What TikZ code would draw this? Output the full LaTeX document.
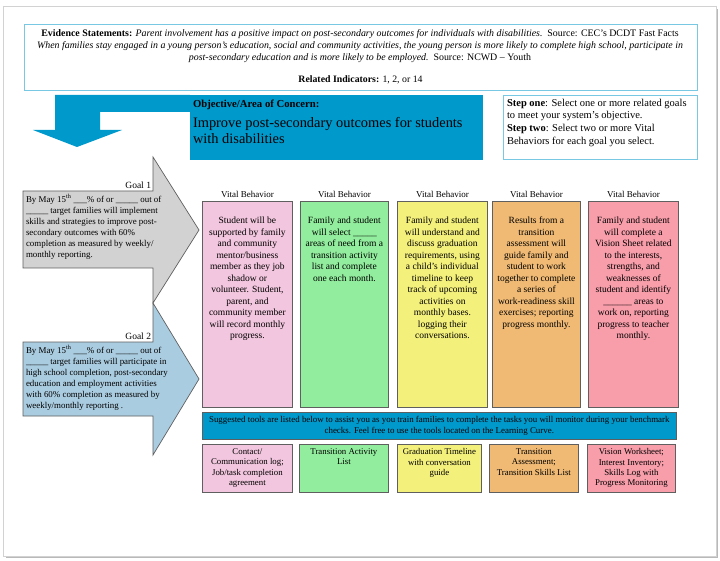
\documentclass[tikz,border=0pt]{standalone}
\usepackage{fontspec}
\setmainfont{Liberation Serif}
\definecolor{objblue}{RGB}{0,153,204}
\definecolor{lineblue}{RGB}{120,200,228}
\definecolor{vbpink}{RGB}{242,198,222}
\definecolor{vbgreen}{RGB}{146,238,158}
\definecolor{vbyellow}{RGB}{244,240,124}
\definecolor{vborange}{RGB}{240,186,116}
\definecolor{vbred}{RGB}{248,158,170}
\definecolor{goalgray}{RGB}{210,210,210}
\definecolor{goalblue}{RGB}{170,204,224}
\definecolor{edgegray}{RGB}{95,95,95}
\tikzset{
  txt/.style={inner sep=0pt, outer sep=0pt},
  vbbox/.style={draw=edgegray, line width=0.8pt, inner sep=0pt, minimum height=206},
  toolbox/.style={draw=edgegray, line width=0.8pt, inner sep=0pt, minimum height=48},
  vbtext/.style={txt, anchor=north, align=center, font=\fontsize{9.5}{11.5}\selectfont},
  tooltext/.style={txt, anchor=north, align=center, font=\fontsize{8.8}{10.4}\selectfont},
  vbhead/.style={txt, anchor=base, font=\fontsize{9}{10}\selectfont},
  goaltext/.style={txt, anchor=north west, align=left, font=\fontsize{8.9}{11}\selectfont},
  goalshape/.style={draw=edgegray, line width=0.7pt},
  bluebox/.style={draw=lineblue, line width=1pt, inner sep=0pt}
}
\begin{document}
\begin{tikzpicture}[x=1pt,y=-1pt]
\useasboundingbox (0,0) rectangle (720,561);
% page
\fill[gray!55] (6,9) rectangle (718,558);
\draw[gray!35, fill=white] (3,6) rectangle (716,556);

% evidence box
\node[bluebox, minimum width=673, minimum height=66, anchor=north west] (evbox) at (24,24) {};
\node[txt, anchor=north, align=center, font=\fontsize{9.9}{12}\selectfont] (evtext) at (360,29.5)
 {\textbf{Evidence Statements:} \textit{Parent involvement has a positive impact on post-secondary outcomes for individuals with disabilities.}\ \ Source: CEC’s DCDT Fast Facts\\
  \textit{When families stay engaged in a young person’s education, social and community activities, the young person is more likely to complete high school, participate in}\\
  \textit{post-secondary education and is more likely to be employed.}\ \ Source: NCWD – Youth};
\node[txt, anchor=base, font=\fontsize{9.8}{12}\selectfont] (related) at (360.5,82.5) {\textbf{Related Indicators:} 1, 2, or 14};

% bent arrow
\fill[objblue] (190,95) -- (55,95) -- (55,130) -- (33,130) -- (77,147) -- (122,130) -- (100,130) -- (100,112) -- (190,112) -- cycle;

% objective box
\node[fill=objblue, inner sep=0pt, minimum width=293, minimum height=65, anchor=north west] (obj) at (190,95) {};
\node[txt, anchor=base west, font=\fontsize{10.7}{12}\selectfont\bfseries] (objlabel) at (193,107.5) {Objective/Area of Concern:};
\node[txt, anchor=north west, align=left, font=\fontsize{14.4}{16}\selectfont] (objtext) at (193,117.5)
 {Improve post-secondary outcomes for students\\ with disabilities};

% step box
\node[bluebox, minimum width=194, minimum height=64, anchor=north west] (stepnote) at (503,95) {};
\node[txt, anchor=north west, align=left, font=\fontsize{10.5}{12.7}\selectfont] (steptext) at (507,99)
 {\textbf{Step one}: Select one or more related goals\\ to meet your system’s objective.\\ \textbf{Step two}: Select two or more Vital\\ Behaviors for each goal you select.};

% goal arrows
\draw[goalshape, fill=goalgray] (23,191) -- (153,191) -- (153,157) -- (199,230) -- (153,303) -- (153,268) -- (23,268) -- cycle;
\node[txt, anchor=base east, font=\fontsize{9.5}{11}\selectfont] (goal1) at (151,188.5) {Goal 1};
\node[goaltext] (g1text) at (26,194.5)
 {By May 15\textsuperscript{th} \_\_\_\% of or \_\_\_\_\_ out of\\
  \_\_\_\_\_ target families will implement\\
  skills and strategies to improve post-\\
  secondary outcomes with 60\%\\
  completion as measured by weekly/\\
  monthly reporting.};
\draw[goalshape, fill=goalblue] (23,342) -- (153,342) -- (153,303) -- (199,379) -- (153,455) -- (153,416) -- (23,416) -- cycle;
\node[txt, anchor=base east, font=\fontsize{9.5}{11}\selectfont] (goal2) at (151,339.5) {Goal 2};
\node[goaltext] (g2text) at (26,345)
 {By May 15\textsuperscript{th} \_\_\_\% of or \_\_\_\_\_ out of\\
  \_\_\_\_\_ target families will participate in\\
  high school completion, post-secondary\\
  education and employment activities\\
  with 60\% completion as measured by\\
  weekly/monthly reporting .};

% vital behavior columns
\node[vbbox, fill=vbpink, minimum width=90, anchor=north west] (vb1) at (202,201) {};
\node[vbbox, fill=vbgreen, minimum width=88, anchor=north west] (vb2) at (300,201) {};
\node[vbbox, fill=vbyellow, minimum width=90, anchor=north west] (vb3) at (397,201) {};
\node[vbbox, fill=vborange, minimum width=88, anchor=north west] (vb4) at (492,201) {};
\node[vbbox, fill=vbred, minimum width=90, anchor=north west] (vb5) at (588,201) {};
\foreach \i in {1,...,5}{
  \node[vbhead] (vbh\i) at ([yshift=3pt]vb\i.north) {Vital Behavior};
}
\node[vbtext] (vbt1) at ([yshift=-16pt]vb1.north)
 {Student will be\\ supported by family\\ and community\\ mentor/business\\ member as they job\\ shadow or\\ volunteer. Student,\\ parent, and\\ community member\\ will record monthly\\ progress.};
\node[vbtext] (vbt2) at ([yshift=-16pt]vb2.north)
 {Family and student\\ will select \_\_\_\_\_\\ areas of need from a\\ transition activity\\ list and complete\\ one each month.};
\node[vbtext] (vbt3) at ([yshift=-16pt]vb3.north)
 {Family and student\\ will understand and\\ discuss graduation\\ requirements, using\\ a child’s individual\\ timeline to keep\\ track of upcoming\\ activities on\\ monthly bases.\\ logging their\\ conversations.};
\node[vbtext] (vbt4) at ([yshift=-16pt]vb4.north)
 {Results from a\\ transition\\ assessment will\\ guide family and\\ student to work\\ together to complete\\ a series of\\ work-readiness skill\\ exercises; reporting\\ progress monthly.};
\node[vbtext] (vbt5) at ([yshift=-16pt]vb5.north)
 {Family and student\\ will complete a\\ Vision Sheet related\\ to the interests,\\ strengths, and\\ weaknesses of\\ student and identify\\ \_\_\_\_\_\_ areas to\\ work on, reporting\\ progress to teacher\\ monthly.};

% banner
\node[draw=edgegray, line width=0.6pt, fill=objblue, inner sep=0pt, minimum width=474, minimum height=27, anchor=north west] (banner) at (202,412) {};
\node[txt, anchor=north, align=center, font=\fontsize{8.9}{10.3}\selectfont] (bannertext) at ([yshift=-4.5pt]banner.north)
 {Suggested tools are listed below to assist you as you train families to complete the tasks you will monitor during your benchmark\\ checks. Feel free to use the tools located on the Learning Curve.};

% tool boxes
\node[toolbox, fill=vbpink, minimum width=90, anchor=north west] (tb1) at (202,444) {};
\node[toolbox, fill=vbgreen, minimum width=89, anchor=north west] (tb2) at (299,444) {};
\node[toolbox, fill=vbyellow, minimum width=84, anchor=north west] (tb3) at (397,444) {};
\node[toolbox, fill=vborange, minimum width=89, anchor=north west] (tb4) at (489,444) {};
\node[toolbox, fill=vbred, minimum width=88, anchor=north west] (tb5) at (587,444) {};
\node[tooltext] (tt1) at ([yshift=-4.5pt]tb1.north) {Contact/\\ Communication log;\\ Job/task completion\\ agreement};
\node[tooltext] (tt2) at ([yshift=-4.5pt]tb2.north) {Transition Activity\\ List};
\node[tooltext] (tt3) at ([yshift=-4.5pt]tb3.north) {Graduation Timeline\\ with conversation\\ guide};
\node[tooltext] (tt4) at ([yshift=-4.5pt]tb4.north) {Transition\\ Assessment;\\ Transition Skills List};
\node[tooltext] (tt5) at ([yshift=-4.5pt]tb5.north) {Vision Worksheet;\\ Interest Inventory;\\ Skills Log with\\ Progress Monitoring};
\end{tikzpicture}
\end{document}
